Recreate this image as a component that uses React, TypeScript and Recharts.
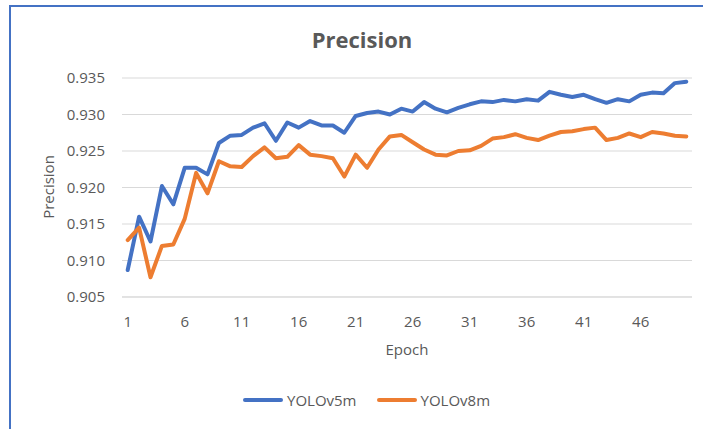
import React from 'react';
import { LineChart, Line, XAxis, YAxis, CartesianGrid } from 'recharts';

const EPOCHS = [1,2,3,4,5,6,7,8,9,10,11,12,13,14,15,16,17,18,19,20,21,22,23,24,25,26,27,28,29,30,31,32,33,34,35,36,37,38,39,40,41,42,43,44,45,46,47,48,49,50];

const YOLOV5M = [0.9087,0.9160,0.9126,0.9202,0.9177,0.9227,0.9227,0.9218,0.9261,0.9271,
  0.9272,0.9282,0.9288,0.9264,0.9289,0.9282,0.9291,0.9285,0.9285,0.9275,
  0.9298,0.9302,0.9304,0.9300,0.9308,0.9304,0.9317,0.9308,0.9303,0.9309,
  0.9314,0.9318,0.9317,0.9320,0.9318,0.9321,0.9319,0.9331,0.9327,0.9324,
  0.9327,0.9321,0.9316,0.9321,0.9318,0.9327,0.9330,0.9329,0.9343,0.9345];

const YOLOV8M = [0.9128,0.9145,0.9077,0.9120,0.9122,0.9157,0.9220,0.9192,0.9236,0.9229,
  0.9228,0.9243,0.9255,0.9240,0.9242,0.9258,0.9245,0.9243,0.9240,0.9215,
  0.9245,0.9227,0.9252,0.9270,0.9272,0.9262,0.9252,0.9245,0.9244,0.9250,
  0.9251,0.9257,0.9267,0.9269,0.9273,0.9268,0.9265,0.9271,0.9276,0.9277,
  0.9280,0.9282,0.9265,0.9268,0.9274,0.9269,0.9276,0.9274,0.9271,0.9270];

const X_TICKS = [1, 6, 11, 16, 21, 26, 31, 36, 41, 46];
const Y_TICKS = [0.905, 0.91, 0.915, 0.92, 0.925, 0.93, 0.935];

const SERIES = [
  { key: 'v5', name: 'YOLOv5m', color: '#4472C4' },
  { key: 'v8', name: 'YOLOv8m', color: '#ED7D31' },
];

const data = EPOCHS.map((e, i) => ({ epoch: e, v5: YOLOV5M[i], v8: YOLOV8M[i] }));

const FONT = '"Open Sans", sans-serif';
const TEXT = '#595959';

export default function App() {
  return (
    <div style={{ position: 'absolute', left: 0, top: 0, width: 703, height: 429, background: '#fff', fontFamily: FONT, overflow: 'hidden' }}>
      <div style={{ position: 'absolute', left: 9, top: 5, width: 703, height: 429, borderTop: '2px solid #4472C4', borderLeft: '2px solid #4472C4', boxSizing: 'border-box' }} />
      <div style={{ position: 'absolute', left: 0, top: 0 }}>
        <LineChart width={703} height={429} data={data} margin={{ top: 78, right: 11, bottom: 102, left: 0 }}>
          <CartesianGrid vertical={false} stroke="#D9D9D9" />
          <XAxis
            dataKey="epoch"
            type="number"
            domain={[0.5, 50.5]}
            ticks={X_TICKS}
            height={30}
            tickLine={false}
            tickSize={0}
            tickMargin={19}
            axisLine={{ stroke: '#D9D9D9' }}
            tick={{ fill: TEXT, fontSize: 15, fontFamily: FONT }}
          />
          <YAxis
            type="number"
            domain={[0.905, 0.935]}
            ticks={Y_TICKS}
            width={122}
            tickLine={false}
            axisLine={false}
            tickSize={0}
            tickMargin={17}
            tickFormatter={(v: number) => v.toFixed(3)}
            tick={{ fill: TEXT, fontSize: 15, fontFamily: FONT }}
          />
          {SERIES.map((s) => (
            <Line
              key={s.key}
              dataKey={s.key}
              name={s.name}
              stroke={s.color}
              strokeWidth={4}
              dot={false}
              strokeLinejoin="round"
              strokeLinecap="round"
              isAnimationActive={false}
            />
          ))}
        </LineChart>
      </div>
      <div style={{ position: 'absolute', left: 212, width: 300, top: 24, textAlign: 'center', fontSize: 22, fontWeight: 700, color: TEXT, lineHeight: '30px' }}>Precision</div>
      <div style={{ position: 'absolute', left: 357, width: 100, top: 338, textAlign: 'center', fontSize: 15, color: TEXT, lineHeight: '22px' }}>Epoch</div>
      <div style={{ position: 'absolute', left: 48, top: 187, width: 0, height: 0 }}>
        <div style={{ position: 'absolute', left: -60, top: -11, width: 120, textAlign: 'center', fontSize: 15, color: TEXT, lineHeight: '22px', transform: 'rotate(-90deg)' }}>Precision</div>
      </div>
      <div style={{ position: 'absolute', left: 243, top: 389, display: 'flex', alignItems: 'center', height: 22 }}>
        {SERIES.map((s, i) => (
          <div key={s.key} style={{ display: 'flex', alignItems: 'center', marginLeft: i === 0 ? 0 : 20 }}>
            <div style={{ width: 40, height: 4, borderRadius: 2, background: s.color }} />
            <span style={{ marginLeft: 4, fontSize: 15, color: TEXT, lineHeight: '22px' }}>{s.name}</span>
          </div>
        ))}
      </div>
    </div>
  );
}
